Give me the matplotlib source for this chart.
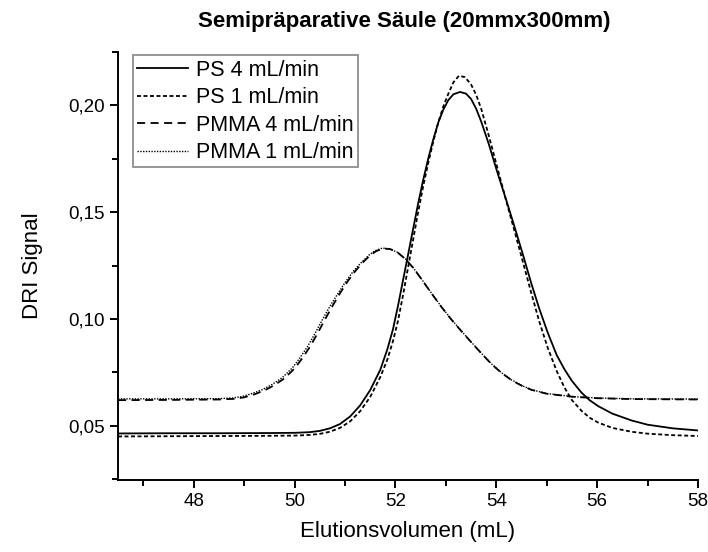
import numpy as np
import matplotlib
matplotlib.use('Agg')
import matplotlib.pyplot as plt
from matplotlib.ticker import MultipleLocator, FuncFormatter

plt.rcParams['font.family'] = ['Liberation Sans', 'DejaVu Sans']

# PS 4 mL/min (solid)
ps4_x = [46.5, 47.5, 48.5, 49.5, 50.0, 50.3, 50.5, 50.7, 50.9, 51.1, 51.3, 51.5, 51.7, 51.84, 51.95, 52.05,
         52.15, 52.25, 52.35, 52.45, 52.55, 52.65, 52.75, 52.85, 52.95, 53.05, 53.15, 53.28, 53.4, 53.5, 53.6,
         53.7, 53.85, 54.03, 54.2, 54.37, 54.53, 54.69, 54.85, 55.02, 55.2, 55.35, 55.5, 55.69, 55.85, 56.02,
         56.3, 56.68, 57.0, 57.5, 58.0]
ps4_y = [0.0464, 0.0465, 0.0465, 0.0466, 0.0467, 0.0470, 0.0476, 0.0488, 0.0508, 0.0543, 0.0595, 0.0667, 0.0762, 0.0858, 0.0950, 0.1060,
         0.1180, 0.1300, 0.1420, 0.1540, 0.1650, 0.1750, 0.1840, 0.1920, 0.1980, 0.2025, 0.2052, 0.2063, 0.2055, 0.2030, 0.1985,
         0.1925, 0.1820, 0.1680, 0.1555, 0.1425, 0.1300, 0.1170, 0.1050, 0.0936, 0.0830, 0.0765, 0.0710, 0.0655, 0.0620, 0.0592,
         0.0557, 0.0525, 0.0505, 0.0488, 0.0478]

# PS 1 mL/min (short dashes)
ps1_x = [46.5, 47.5, 48.5, 49.5, 50.0, 50.3, 50.5, 50.7, 50.9, 51.1, 51.3, 51.5, 51.7, 51.84, 51.95, 52.05,
         52.15, 52.25, 52.35, 52.45, 52.55, 52.65, 52.75, 52.85, 52.95, 53.05, 53.15, 53.26, 53.38, 53.5, 53.6,
         53.7, 53.85, 54.03, 54.2, 54.37, 54.53, 54.69, 54.85, 55.02, 55.2, 55.35, 55.5, 55.69, 55.85, 56.02,
         56.3, 56.68, 57.0, 57.5, 58.0]
ps1_y = [0.0450, 0.0451, 0.0452, 0.0453, 0.0454, 0.0457, 0.0462, 0.0472, 0.0490, 0.0520, 0.0568, 0.0635, 0.0728, 0.0810, 0.0895, 0.0990,
         0.1110, 0.1240, 0.1370, 0.1500, 0.1620, 0.1730, 0.1830, 0.1920, 0.1995, 0.2055, 0.2108, 0.2139, 0.2132, 0.2098, 0.2050,
         0.1985, 0.1860, 0.1700, 0.1550, 0.1405, 0.1265, 0.1125, 0.0990, 0.0865, 0.0755, 0.0680, 0.0620, 0.0570, 0.0538, 0.0515,
         0.0490, 0.0472, 0.0463, 0.0456, 0.0452]

# PMMA 4 mL/min (dashes)
pm4_x = [46.5, 47.5, 48.5, 48.8, 49.0, 49.2, 49.4, 49.6, 49.8, 50.0, 50.15, 50.3, 50.45, 50.6, 50.75, 50.9,
         51.05, 51.2, 51.35, 51.5, 51.62, 51.76, 51.9, 52.05, 52.2, 52.35, 52.5, 52.7, 52.9, 53.1, 53.3,
         53.5, 53.7, 53.9, 54.1, 54.3, 54.5, 54.7, 55.0, 55.5, 56.0, 56.7, 58.0]
pm4_y = [0.0620, 0.0621, 0.0623, 0.0626, 0.0633, 0.0647, 0.0665, 0.0690, 0.0722, 0.0768, 0.0815, 0.0868, 0.0930, 0.0996, 0.1060, 0.1120,
         0.1175, 0.1223, 0.1264, 0.1298, 0.1318, 0.1330, 0.1327, 0.1310, 0.1280, 0.1240, 0.1192, 0.1125, 0.1060, 0.1000, 0.0945,
         0.0892, 0.0840, 0.0790, 0.0748, 0.0714, 0.0688, 0.0668, 0.0650, 0.0636, 0.0629, 0.0625, 0.0623]

# PMMA 1 mL/min (dotted)
pm1_x = [46.5, 47.5, 48.5, 48.77, 48.96, 49.16, 49.36, 49.56, 49.76, 49.96, 50.11, 50.26, 50.41, 50.56, 50.71, 50.87,
         51.02, 51.17, 51.33, 51.48, 51.6, 51.74, 51.89, 52.05, 52.2, 52.35, 52.5, 52.7, 52.9, 53.1, 53.3,
         53.5, 53.7, 53.9, 54.1, 54.3, 54.5, 54.7, 55.0, 55.5, 56.0, 56.7, 58.0]
pm1_y = [0.0626, 0.0626, 0.0627, 0.0630, 0.0637, 0.0651, 0.0669, 0.0694, 0.0726, 0.0772, 0.0819, 0.0872, 0.0934, 0.1000, 0.1063, 0.1123,
         0.1177, 0.1225, 0.1266, 0.1300, 0.1320, 0.1332, 0.1328, 0.1311, 0.1281, 0.1241, 0.1193, 0.1126, 0.1061, 0.1001, 0.0946,
         0.0893, 0.0841, 0.0791, 0.0749, 0.0715, 0.0689, 0.0669, 0.0651, 0.0637, 0.0630, 0.0626, 0.0625]

fig = plt.figure(figsize=(7.08, 5.52), dpi=100)
ax = fig.add_axes([0.1667, 0.1304, 0.8192, 0.7754])

ax.plot(ps4_x, ps4_y, color='black', lw=1.3, ls='-', label='PS 4 mL/min')
ax.plot(ps1_x, ps1_y, color='black', lw=1.3, dashes=(2.2, 1.4), label='PS 1 mL/min')
ax.plot(pm4_x, pm4_y, color='black', lw=1.3, dashes=(4.5, 3.0), label='PMMA 4 mL/min')
ax.plot(pm1_x, pm1_y, color='black', lw=1.0, dashes=(1.0, 1.0), label='PMMA 1 mL/min')

ax.set_xlim(46.5, 58)
ax.set_ylim(0.0246, 0.225)
ax.xaxis.set_major_locator(MultipleLocator(2))
ax.xaxis.set_minor_locator(MultipleLocator(1))
ax.yaxis.set_major_locator(MultipleLocator(0.05))
ax.yaxis.set_minor_locator(MultipleLocator(0.025))
ax.yaxis.set_major_formatter(FuncFormatter(lambda v, p: f'{v:.2f}'.replace('.', ',')))

for s in ['top', 'right']:
    ax.spines[s].set_visible(False)
for s in ['left', 'bottom']:
    ax.spines[s].set_linewidth(1.4)
ax.tick_params(which='major', direction='out', length=6, width=1.4, labelsize=13.5)
ax.tick_params(which='minor', direction='out', length=4, width=1.4)

ax.set_xlabel('Elutionsvolumen (mL)', fontsize=16, labelpad=8)
ax.set_ylabel('DRI Signal', fontsize=16, labelpad=18)
ax.set_title('Semipräparative Säule (20mmx300mm)', fontsize=16, fontweight='bold', pad=18, x=0.493)

leg = ax.legend(loc='upper left', bbox_to_anchor=(0.025, 0.992), fontsize=15.5, frameon=True, fancybox=False,
                handlelength=2.4, handletextpad=0.33, borderpad=0.2, labelspacing=0.3, borderaxespad=0)
leg.get_frame().set_edgecolor('#666666')
leg.get_frame().set_linewidth(1.2)

fig.savefig('out.png', dpi=100)
